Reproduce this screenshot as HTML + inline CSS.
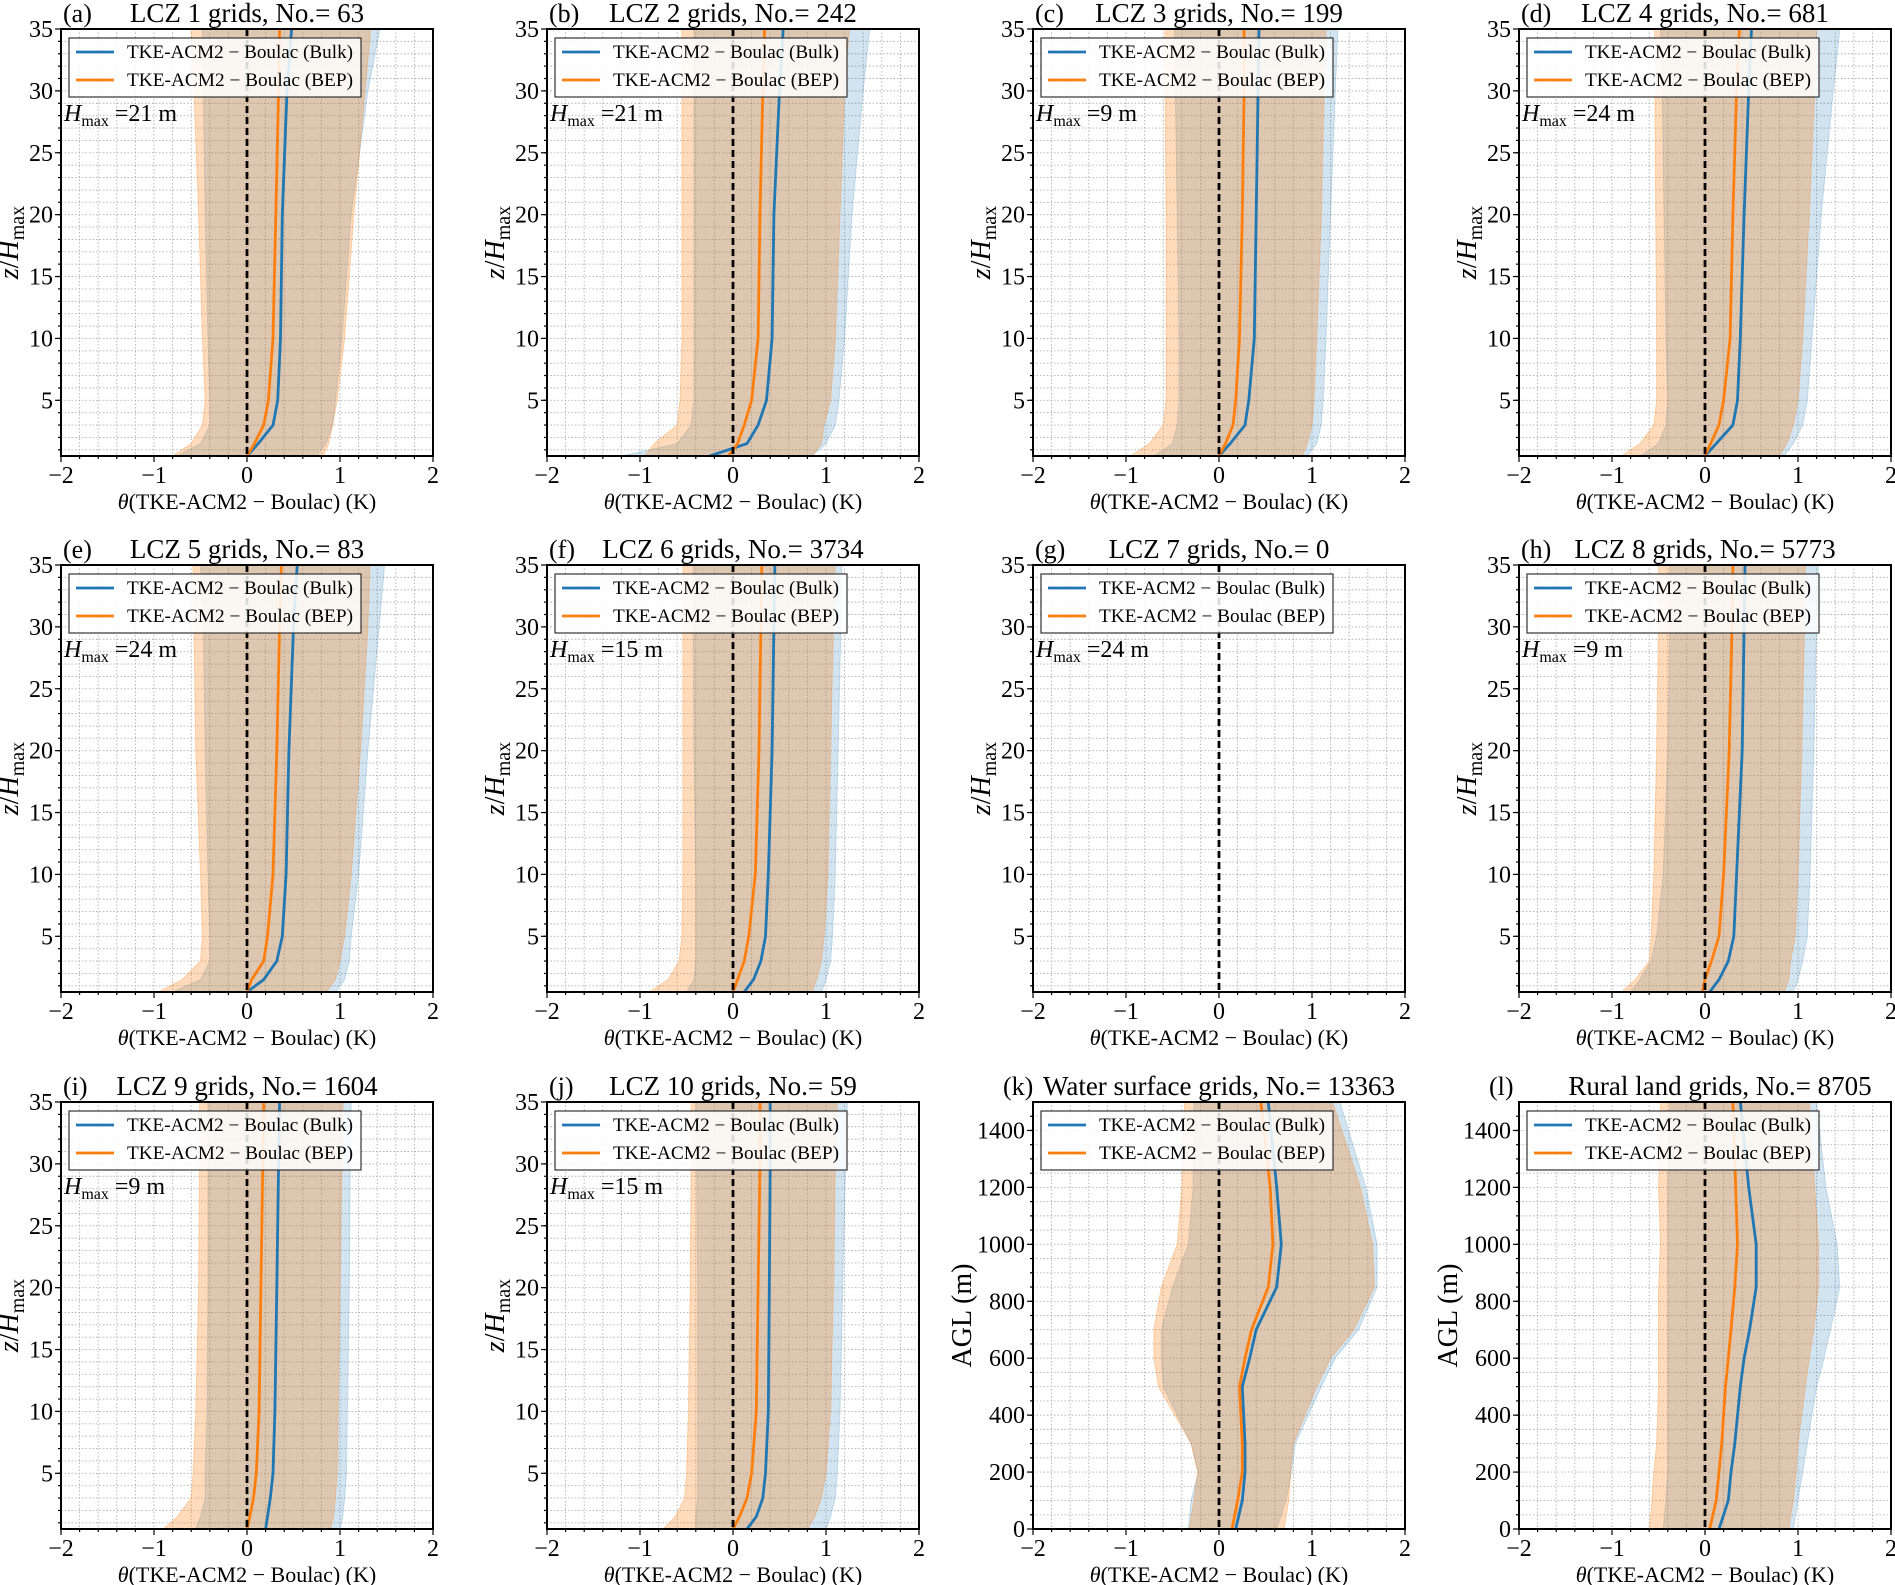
<!DOCTYPE html>
<html><head><meta charset="utf-8">
<style>
html,body{margin:0;padding:0;background:#fff;}
svg{display:block;font-family:"Liberation Serif","DejaVu Serif",serif;}
</style></head>
<body>
<svg id="fig" width="1895" height="1585" viewBox="0 0 1895 1585" xmlns="http://www.w3.org/2000/svg"></svg>
<script>
// ---- data ----
const panelLetters = ["a","b","c","d","e","f","g","h","i","j","k","l"];
const panelTitles = ["LCZ 1 grids, No.= 63","LCZ 2 grids, No.= 242","LCZ 3 grids, No.= 199","LCZ 4 grids, No.= 681","LCZ 5 grids, No.= 83","LCZ 6 grids, No.= 3734","LCZ 7 grids, No.= 0","LCZ 8 grids, No.= 5773","LCZ 9 grids, No.= 1604","LCZ 10 grids, No.= 59","Water surface grids, No.= 13363","Rural land grids, No.= 8705"];
const hmaxValues = [21,21,9,24,24,15,24,9,9,15,null,null];
const zLevels = [0.5,1.5,3,5,10,20,30,35];
const aglLevels = [0,100,200,300,500,600,700,850,1000,1200,1500];
const xTicks = [-2,-1,0,1,2];
const xTickLabels = ["−2","−1","0","1","2"];
const zTicks = [5,10,15,20,25,30,35];
const aglTicks = [0,200,400,600,800,1000,1200,1400];
const bulkMean = [
 [0,0.12,0.28,0.33,0.36,0.38,0.43,0.48],
 [-0.25,0.15,0.27,0.36,0.42,0.44,0.5,0.54],
 [0,0.12,0.28,0.32,0.38,0.4,0.42,0.43],
 [0,0.12,0.3,0.35,0.38,0.42,0.47,0.5],
 [0,0.18,0.32,0.38,0.42,0.45,0.5,0.54],
 [0.12,0.22,0.3,0.35,0.38,0.42,0.44,0.45],
 null,
 [0.05,0.15,0.25,0.31,0.34,0.4,0.42,0.43],
 [0.2,0.22,0.25,0.28,0.3,0.32,0.34,0.35],
 [0.15,0.25,0.32,0.35,0.38,0.39,0.4,0.4],
 [0.18,0.25,0.28,0.28,0.25,0.33,0.4,0.62,0.67,0.62,0.53],
 [0.15,0.25,0.28,0.32,0.38,0.42,0.48,0.55,0.55,0.47,0.38]
];
const bepMean = [
 [0,0.08,0.18,0.23,0.28,0.31,0.34,0.35],
 [-0.05,0.05,0.12,0.2,0.27,0.29,0.32,0.34],
 [0,0.07,0.15,0.18,0.22,0.25,0.27,0.27],
 [0,0.06,0.15,0.2,0.27,0.3,0.34,0.37],
 [0,0.05,0.18,0.22,0.28,0.32,0.35,0.37],
 [0,0.05,0.12,0.17,0.24,0.28,0.3,0.31],
 null,
 [-0.03,0.0,0.07,0.15,0.2,0.26,0.29,0.3],
 [0,0.03,0.07,0.1,0.13,0.15,0.17,0.18],
 [0,0.07,0.15,0.2,0.25,0.27,0.29,0.29],
 [0.14,0.2,0.25,0.25,0.22,0.28,0.35,0.53,0.58,0.55,0.45],
 [0.05,0.12,0.15,0.18,0.22,0.25,0.28,0.32,0.35,0.33,0.3]
];
const bulkLow = [
 [-0.75,-0.5,-0.4,-0.4,-0.42,-0.45,-0.47,-0.48],
 [-1.2,-0.6,-0.45,-0.42,-0.42,-0.42,-0.42,-0.42],
 [-0.7,-0.5,-0.45,-0.43,-0.43,-0.45,-0.47,-0.48],
 [-0.7,-0.5,-0.42,-0.4,-0.42,-0.44,-0.46,-0.48],
 [-0.8,-0.5,-0.4,-0.4,-0.42,-0.45,-0.47,-0.5],
 [-0.5,-0.42,-0.4,-0.4,-0.4,-0.42,-0.43,-0.43],
 null,
 [-0.8,-0.7,-0.58,-0.52,-0.45,-0.4,-0.38,-0.38],
 [-0.55,-0.5,-0.45,-0.45,-0.43,-0.42,-0.42,-0.42],
 [-0.4,-0.4,-0.38,-0.38,-0.38,-0.38,-0.39,-0.4],
 [-0.33,-0.3,-0.22,-0.3,-0.6,-0.62,-0.62,-0.5,-0.33,-0.28,-0.27],
 [-0.45,-0.42,-0.4,-0.4,-0.4,-0.4,-0.4,-0.4,-0.4,-0.4,-0.38]
];
const bulkHigh = [
 [0.75,0.85,0.92,0.95,1.02,1.12,1.3,1.43],
 [0.85,1.0,1.1,1.14,1.2,1.28,1.4,1.47],
 [0.95,1.05,1.1,1.12,1.15,1.2,1.25,1.28],
 [0.85,0.95,1.05,1.1,1.15,1.25,1.38,1.45],
 [0.95,1.05,1.1,1.12,1.2,1.3,1.42,1.48],
 [0.95,1.0,1.05,1.07,1.1,1.13,1.16,1.17],
 null,
 [0.95,1.0,1.05,1.1,1.13,1.17,1.2,1.22],
 [1.0,1.03,1.05,1.07,1.08,1.1,1.11,1.12],
 [1.0,1.05,1.1,1.12,1.15,1.18,1.21,1.23],
 [0.62,0.72,0.78,0.82,1.1,1.25,1.5,1.7,1.7,1.58,1.3],
 [0.95,1.0,1.05,1.1,1.2,1.28,1.35,1.45,1.42,1.3,1.2]
];
const bepLow = [
 [-0.8,-0.6,-0.48,-0.45,-0.48,-0.52,-0.57,-0.6],
 [-0.95,-0.85,-0.6,-0.57,-0.55,-0.55,-0.55,-0.55],
 [-0.95,-0.75,-0.6,-0.57,-0.57,-0.57,-0.58,-0.58],
 [-0.9,-0.7,-0.55,-0.52,-0.52,-0.53,-0.54,-0.54],
 [-0.95,-0.7,-0.5,-0.48,-0.5,-0.55,-0.57,-0.58],
 [-0.9,-0.7,-0.58,-0.55,-0.54,-0.54,-0.54,-0.54],
 null,
 [-0.9,-0.75,-0.6,-0.58,-0.55,-0.52,-0.5,-0.5],
 [-0.9,-0.75,-0.6,-0.58,-0.55,-0.52,-0.51,-0.51],
 [-0.75,-0.62,-0.52,-0.5,-0.48,-0.46,-0.45,-0.45],
 [-0.32,-0.27,-0.23,-0.3,-0.65,-0.7,-0.7,-0.62,-0.45,-0.4,-0.37],
 [-0.6,-0.57,-0.55,-0.52,-0.5,-0.5,-0.5,-0.5,-0.48,-0.5,-0.48]
];
const bepHigh = [
 [0.82,0.88,0.92,0.97,1.05,1.15,1.27,1.33],
 [0.85,0.95,0.98,1.05,1.1,1.15,1.2,1.25],
 [0.9,0.95,1.0,1.02,1.05,1.1,1.13,1.15],
 [0.8,0.88,0.95,1.0,1.05,1.12,1.18,1.2],
 [0.85,0.95,1.0,1.05,1.12,1.22,1.3,1.32],
 [0.85,0.9,0.95,0.98,1.02,1.05,1.08,1.1],
 null,
 [0.85,0.9,0.92,0.97,1.0,1.04,1.07,1.08],
 [0.9,0.93,0.95,0.97,0.98,1.0,1.02,1.03],
 [0.8,0.88,0.95,1.0,1.05,1.08,1.1,1.12],
 [0.7,0.75,0.77,0.8,1.05,1.2,1.45,1.67,1.65,1.52,1.22],
 [0.9,0.95,0.98,1.0,1.08,1.12,1.17,1.22,1.22,1.18,1.12]
];

// ---- drawing ----
const NS = "http://www.w3.org/2000/svg";
const svg = document.getElementById("fig");
const colX = [61,547,1033,1519], rowY = [29,565,1102], W = 372, H = 427;
function mk(tag, attrs, parent){
  const e = document.createElementNS(NS, tag);
  for (const k in attrs) e.setAttribute(k, attrs[k]);
  (parent||svg).appendChild(e);
  return e;
}
const defs = mk("defs", {});

for (let p = 0; p < 12; p++) {
  const x0 = colX[p % 4], y0 = rowY[Math.floor(p / 4)];
  const isAgl = p >= 10;
  const yMin = isAgl ? 0 : 0.5, yMax = isAgl ? 1500 : 35;
  const levels = isAgl ? aglLevels : zLevels;
  const xs = v => x0 + (v + 2) / 4 * W;
  const ys = v => y0 + H - (v - yMin) / (yMax - yMin) * H;

  const g = mk("g", {});
  
  

  const cp = mk("clipPath", {id: "clip" + p}, defs);
  mk("rect", {x: x0, y: y0, width: W, height: H}, cp);

  // grid
  const grid = mk("g", {stroke: "#b0b0b0", "stroke-width": 0.9, "stroke-dasharray": "1.5,2"}, g);
  
  
  for (let i = 1; i < 20; i++) {
    const xv = -2 + i * 0.2, X = xs(xv);
    mk("line", {x1: X, x2: X, y1: y0, y2: y0 + H}, grid);
  }
  const yStep = isAgl ? 50 : 1;
  for (let v = isAgl ? 50 : 1; v < yMax; v += yStep) {
    const Y = ys(v);
    mk("line", {x1: x0, x2: x0 + W, y1: Y, y2: Y}, grid);
  }

  // bands and lines
  const plot = mk("g", {"clip-path": "url(#clip" + p + ")"}, g);
  function band(lo, hi, color, op, name) {
    if (!lo) return;
    let d = "";
    levels.forEach((l, i) => { d += (i ? "L" : "M") + xs(hi[i]).toFixed(1) + "," + ys(l).toFixed(1); });
    for (let i = levels.length - 1; i >= 0; i--) d += "L" + xs(lo[i]).toFixed(1) + "," + ys(levels[i]).toFixed(1);
    const e = mk("path", {d: d + "Z", fill: color, "fill-opacity": op, stroke: color, "stroke-opacity": op, "stroke-width": 1}, plot);
    
    
  }
  function line(vals, color, name) {
    if (!vals) return;
    const pts = levels.map((l, i) => xs(vals[i]).toFixed(1) + "," + ys(l).toFixed(1)).join(" ");
    const e = mk("polyline", {points: pts, fill: "none", stroke: color, "stroke-width": 2.8}, plot);
    
    
  }
  band(bulkLow[p], bulkHigh[p], "#1f77b4", 0.2, "bulk-spread-band");
  band(bepLow[p], bepHigh[p], "#ff7f0e", 0.28, "bep-spread-band");
  line(bulkMean[p], "#1f77b4", "bulk-mean-line");
  line(bepMean[p], "#ff7f0e", "bep-mean-line");

  const zero = mk("line", {x1: xs(0), x2: xs(0), y1: y0, y2: y0 + H, stroke: "#000", "stroke-width": 2.8, "stroke-dasharray": "7,4"}, g);
  
  

  // ticks
  const ticks = mk("g", {stroke: "#000", "stroke-width": 1.2}, g);
  xTicks.forEach((t, i) => {
    const X = xs(t);
    mk("line", {x1: X, x2: X, y1: y0 + H, y2: y0 + H + 6}, ticks);
    const tl = mk("text", {x: X, y: y0 + H + 27, "font-size": 24, "text-anchor": "middle", fill: "#000", stroke: "none"}, g);
    tl.textContent = xTickLabels[i];
    
    
  });
  for (let i = 1; i < 20; i++) {
    if (i % 5 === 0) continue;
    const X = xs(-2 + i * 0.2);
    mk("line", {x1: X, x2: X, y1: y0 + H, y2: y0 + H + 3}, ticks);
  }
  const yt = isAgl ? aglTicks : zTicks;
  yt.forEach(t => {
    const Y = ys(t);
    mk("line", {x1: x0, x2: x0 - 6, y1: Y, y2: Y}, ticks);
    const tl = mk("text", {x: x0 - 8, y: Y + 8, "font-size": 24, "text-anchor": "end", fill: "#000", stroke: "none"}, g);
    tl.textContent = String(t);
    
    
  });
  for (let v = yStep; v < yMax; v += yStep) {
    const Y = ys(v);
    mk("line", {x1: x0, x2: x0 - 3, y1: Y, y2: Y}, ticks);
  }

  // frame
  mk("rect", {x: x0, y: y0, width: W, height: H, fill: "none", stroke: "#000", "stroke-width": 2}, g);

  // legend
  const lg = mk("g", {}, g);
  
  
  mk("rect", {x: x0 + 8, y: y0 + 9, width: 292, height: 59, fill: "#fff", "fill-opacity": 0.85, stroke: "#333", "stroke-width": 1.2}, lg);
  [["#1f77b4", "TKE-ACM2 − Boulac (Bulk)", 23], ["#ff7f0e", "TKE-ACM2 − Boulac (BEP)", 51]].forEach(e => {
    mk("line", {x1: x0 + 15, x2: x0 + 53, y1: y0 + e[2], y2: y0 + e[2], stroke: e[0], "stroke-width": 2.8}, lg);
    const t = mk("text", {x: x0 + 66, y: y0 + e[2] + 6, "font-size": 18.5, fill: "#000", textLength: 226, lengthAdjust: "spacingAndGlyphs"}, lg);
    t.textContent = e[1];
    
    
  });

  // Hmax annotation
  if (hmaxValues[p] !== null) {
    const t = mk("text", {x: x0 + 3, y: y0 + 92, "font-size": 24, fill: "#000"}, g);
    t.innerHTML = '<tspan font-style="italic">H</tspan><tspan font-size="16" dy="5">max</tspan><tspan dy="-5"> =' + hmaxValues[p] + ' m</tspan>';
    
    
  }

  // title
  const letterX = isAgl ? x0 - 30 : x0 + 2;
  const titleOff = p === 11 ? 15 : 0;
  const tl = mk("text", {x: letterX, y: y0 - 7, "font-size": 26, fill: "#000"}, g);
  tl.textContent = "(" + panelLetters[p] + ")";
  
  
  const tt = mk("text", {x: x0 + W / 2 + titleOff, y: y0 - 7, "font-size": 27, "text-anchor": "middle", fill: "#000"}, g);
  tt.textContent = panelTitles[p];
  
  

  // x label
  const xl = mk("text", {x: x0 + W / 2, y: y0 + H + 53, "font-size": 22, "text-anchor": "middle", fill: "#000"}, g);
  xl.innerHTML = '<tspan font-style="italic">θ</tspan>(TKE-ACM2 − Boulac) (K)';
  
  

  // y label
  const yx = isAgl ? x0 - 62 : x0 - 43, yy = y0 + H / 2;
  const ylab = mk("text", {x: yx, y: yy, "font-size": 28, "text-anchor": "middle", fill: "#000", transform: "rotate(-90 " + yx + " " + yy + ")"}, g);
  if (isAgl) ylab.textContent = "AGL (m)";
  else ylab.innerHTML = '<tspan font-style="italic">z</tspan>/<tspan font-style="italic">H</tspan><tspan font-size="20" dy="6">max</tspan>';
  
  
}
</script>
</body></html>
